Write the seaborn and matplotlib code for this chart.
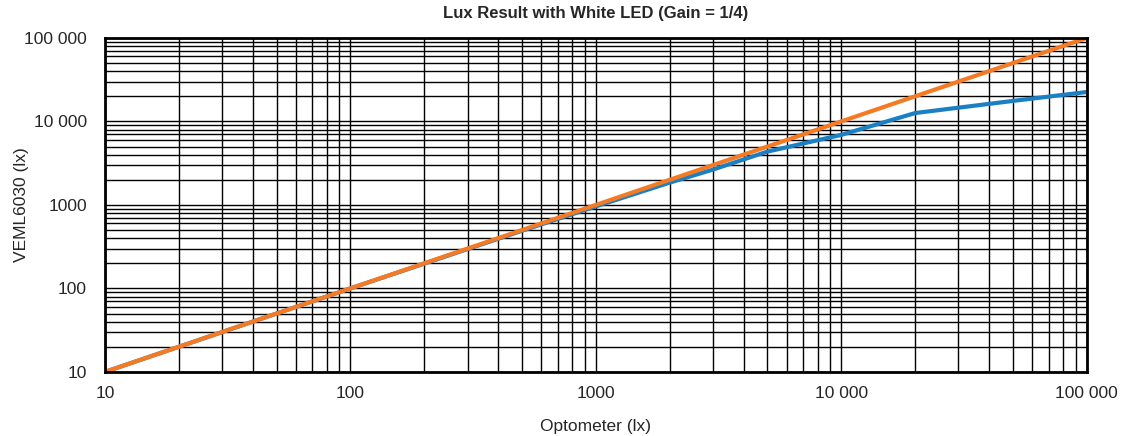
import pandas as pd
import numpy as np
import matplotlib.pyplot as plt
import seaborn as sns
from matplotlib.ticker import FixedLocator, LogLocator, NullFormatter

# data
optometer = [10, 100, 500, 1000, 2000, 3000, 5000, 10000, 20000, 50000, 100000]
veml = [10, 100, 490, 960, 1850, 2650, 4350, 6900, 12600, 17600, 22500]
ideal_x = [10, 100000]
ideal_y = [10, 100000]
tick_vals = [10, 100, 1000, 10000, 100000]
tick_labels = ["10", "100", "1000", "10 000", "100 000"]

sns.set_style("white")
plt.rcParams['font.family'] = ['Liberation Sans', 'DejaVu Sans']

df = pd.DataFrame({"x": optometer, "y": veml})
df_ideal = pd.DataFrame({"x": ideal_x, "y": ideal_y})

fig = plt.figure(figsize=(11.25, 4.36), dpi=100)
ax = fig.add_axes([0.0933, 0.147, 0.8727, 0.766])

sns.lineplot(x="x", y="y", data=df, color="#1b7fc3", linewidth=3, ax=ax)
sns.lineplot(x="x", y="y", data=df_ideal, color="#f47a24", linewidth=3, ax=ax)

ax.set_xscale("log")
ax.set_yscale("log")
ax.set_xlim(10, 100000)
ax.set_ylim(10, 100000)

ax.xaxis.set_major_locator(FixedLocator(tick_vals))
ax.yaxis.set_major_locator(FixedLocator(tick_vals))
ax.set_xticklabels(tick_labels)
ax.set_yticklabels(tick_labels)
ax.xaxis.set_minor_locator(LogLocator(base=10, subs=np.arange(2, 10)))
ax.yaxis.set_minor_locator(LogLocator(base=10, subs=np.arange(2, 10)))
ax.xaxis.set_minor_formatter(NullFormatter())
ax.yaxis.set_minor_formatter(NullFormatter())

ax.grid(True, which="both", color="black", linewidth=1)
ax.set_axisbelow(True)
ax.tick_params(which="both", length=0, labelsize=12.5)
ax.tick_params(axis="x", pad=10)
ax.tick_params(axis="y", pad=13)

for s in ax.spines.values():
    s.set_color("black")
    s.set_linewidth(2)

ax.set_xlabel("Optometer (lx)", fontsize=12.5, labelpad=13)
ax.set_ylabel("VEML6030 (lx)", fontsize=12.5)
ax.yaxis.set_label_coords(-0.077, 0.5)
ax.set_title("Lux Result with White LED (Gain = 1/4)", fontsize=12, fontweight="bold", pad=14)

plt.savefig("out.png", dpi=100)
